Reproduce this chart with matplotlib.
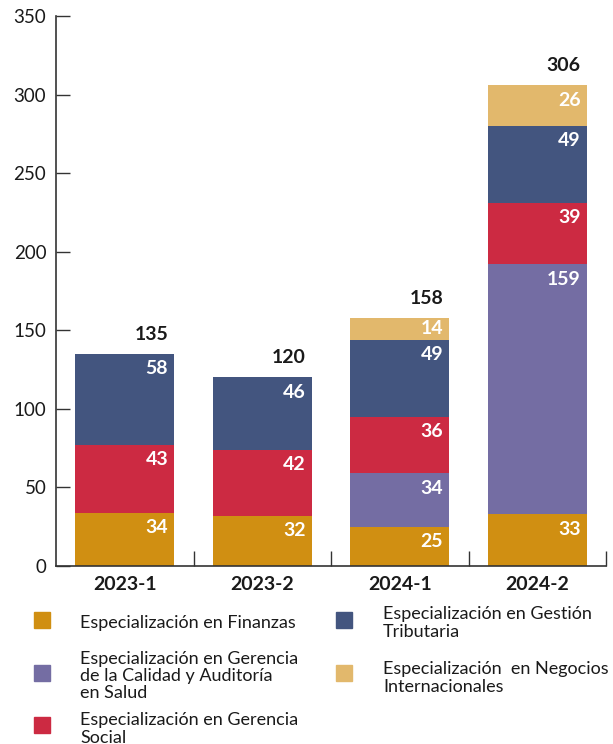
import matplotlib
matplotlib.use("Agg")
import matplotlib.pyplot as plt
import numpy as np

plt.rcParams['font.family'] = ['Lato', 'DejaVu Sans']

periodos = ['2023-1', '2023-2', '2024-1', '2024-2']
programas = [
    'Especialización en Finanzas',
    'Especialización en Gerencia\nde la Calidad y Auditoría\nen Salud',
    'Especialización en Gerencia\nSocial',
    'Especialización en Gestión\nTributaria',
    'Especialización  en Negocios\nInternacionales',
]
finanzas = [34, 32, 25, 33]
calidad_salud = [0, 0, 34, 159]
gerencia_social = [43, 42, 36, 39]
gestion_tributaria = [58, 46, 49, 49]
negocios = [0, 0, 14, 26]
totales = [135, 120, 158, 306]

colores = ['#D08F12', '#746DA3', '#CC2A42', '#43557F', '#E2B86C']
series = [finanzas, calidad_salud, gerencia_social, gestion_tributaria, negocios]

fig = plt.figure(figsize=(6.13, 7.44), dpi=100)
ax = fig.add_axes([0.0914, 0.2392, 0.8972, 0.7393])

x = np.arange(len(periodos))
ancho = 0.72
margen = 0.045
base = np.zeros(len(periodos))
for vals, col in zip(series, colores):
    vals = np.array(vals, dtype=float)
    ax.bar(x, vals, ancho, bottom=base, color=col, linewidth=0)
    for i, v in enumerate(vals):
        if v <= 0:
            continue
        tope = base[i] + v
        y = tope - min(9.5, v / 2)
        ax.text(x[i] + ancho / 2 - margen, y, f'{int(v)}', ha='right', va='center',
                color='white', fontsize=14, fontweight='bold')
    base += vals

for i, t in enumerate(totales):
    ax.text(x[i] + ancho / 2 - margen, t + 12.5, str(t), ha='right', va='center',
            color='#1a1a1a', fontsize=14, fontweight='bold')

ax.set_xlim(-0.5, 3.5)
ax.set_ylim(0, 350)
ax.set_yticks(range(0, 351, 50))
ax.set_xticks(x)
ax.set_xticklabels(periodos, fontweight='bold', fontsize=14)
ax.set_xticks(np.arange(0.5, 4, 1), minor=True)
ax.tick_params(axis='x', which='major', length=0, pad=7, colors='#1a1a1a')
ax.tick_params(axis='x', which='minor', direction='in', length=11, width=1, color='#333333')
ax.tick_params(axis='y', direction='in', length=10, width=1, color='#333333',
               labelsize=13.5, pad=7, labelcolor='#1a1a1a')
for s in ['top', 'right']:
    ax.spines[s].set_visible(False)
for s in ['left', 'bottom']:
    ax.spines[s].set_color('#333333')
    ax.spines[s].set_linewidth(1.2)

# leyenda manual en dos columnas (px desde arriba: centro del cuadro, centro del texto)
posiciones = [(0, 620, 623), (0, 673, 676), (0, 725, 729), (1, 620, 623), (1, 673, 678)]
for k in range(len(programas)):
    colx, ycuadro, ytexto = posiciones[k]
    sx = 34 if colx == 0 else 336
    tx = 80 if colx == 0 else 383
    fig.patches.append(plt.Rectangle((sx / 613, 1 - (ycuadro + 8) / 744), 16 / 613, 16 / 744,
                                     transform=fig.transFigure, color=colores[k]))
    fig.text(tx / 613, 1 - ytexto / 744, programas[k], ha='left', va='center',
             fontsize=13, color='#1a1a1a', linespacing=1.08)

fig.savefig('out.png', dpi=100)
